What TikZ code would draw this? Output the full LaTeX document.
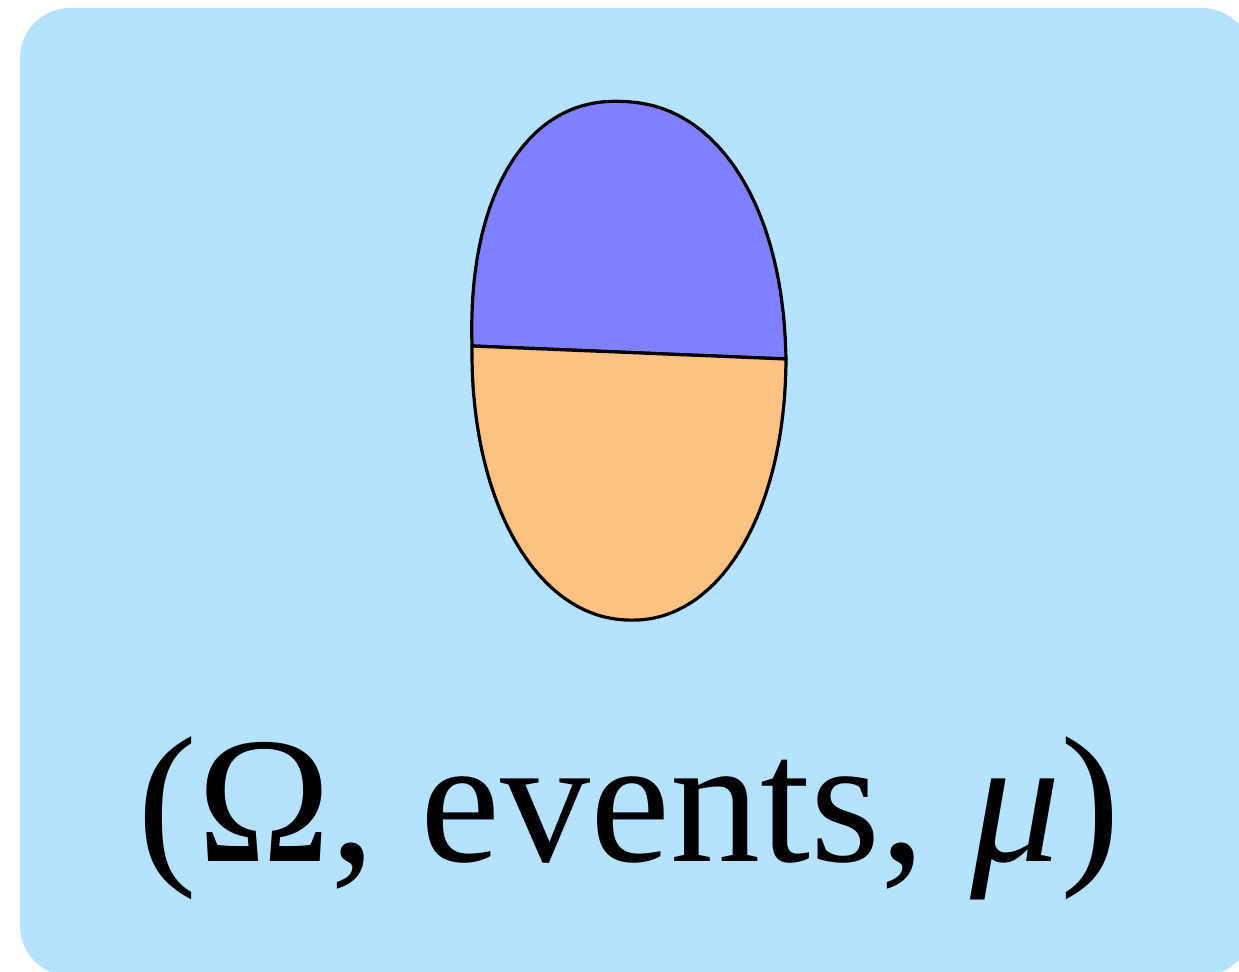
\documentclass[tikz,border=0pt]{standalone}
\usepackage{fontspec}
\setmainfont{Liberation Serif}
\definecolor{bgblue}{RGB}{180,226,255}
\definecolor{topblue}{RGB}{128,128,255}
\definecolor{botorange}{RGB}{253,194,129}
\begin{document}
\begin{tikzpicture}[x=0.5pt,y=-0.5pt,
  region/.style={draw=black,line width=1.6pt,line join=round}]
\useasboundingbox (0,0) rectangle (1239,972);
\fill[bgblue,rounded corners=25pt] (20,8) rectangle (1252,976);
% upper half: superellipse exponent 2.2 (2/n = 0.909)
\path[region,fill=topblue] plot[domain=180:0,samples=120,smooth]
  ({629 + 157*cos(\x)/max(abs(cos(\x)),0.00001)*max(abs(cos(\x)),0.00001)^0.909 - 6*max(abs(sin(\x)),0.00001)^0.909},
   {352.5 + 6.5*cos(\x)/max(abs(cos(\x)),0.00001)*max(abs(cos(\x)),0.00001)^0.909 - 251*max(abs(sin(\x)),0.00001)^0.909})
  -- cycle;
% lower half: exponent 2.1 (2/n = 0.9524)
\path[region,fill=botorange] plot[domain=180:0,samples=120,smooth]
  ({629 + 157*cos(\x)/max(abs(cos(\x)),0.00001)*max(abs(cos(\x)),0.00001)^0.9524 - 2*max(abs(sin(\x)),0.00001)^0.9524},
   {352.5 + 6.5*cos(\x)/max(abs(cos(\x)),0.00001)*max(abs(cos(\x)),0.00001)^0.9524 + 267.5*max(abs(sin(\x)),0.00001)^0.9524})
  -- cycle;
\node[font=\fontsize{90}{100}\selectfont,anchor=base,inner sep=0pt] (lbl) at (629,862) {(Ω, events, \textit{μ})};
\end{tikzpicture}
\end{document}
